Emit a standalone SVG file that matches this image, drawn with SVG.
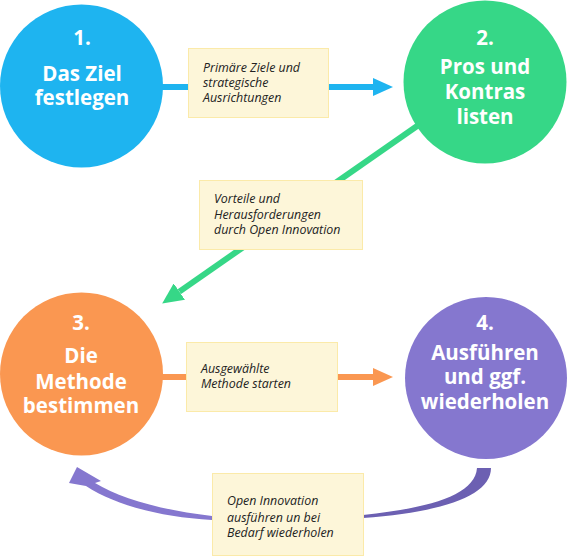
<svg xmlns="http://www.w3.org/2000/svg" width="567" height="556" viewBox="0 0 567 556">
<style>
.ct{font-family:"Open Sans","Noto Sans",sans-serif;font-weight:700;font-size:20.5px;fill:#fff;text-anchor:middle}
.bx{fill:#fdf6d9;stroke:#fbeaa9;stroke-width:1}
.lt{font-family:"Open Sans","Noto Sans",sans-serif;font-style:italic;font-size:12.4px;fill:#222}
</style>
<defs>
<marker id="ab" markerUnits="userSpaceOnUse" markerWidth="20" markerHeight="18" refX="0" refY="9" orient="auto"><path d="M0,0 L20,9 L0,18 Z" fill="#1eb4f0"/></marker>
<marker id="ag" markerUnits="userSpaceOnUse" markerWidth="21" markerHeight="20" refX="0" refY="10" orient="auto"><path d="M0,0 L21,10 L0,20 Z" fill="#36d787"/></marker>
<marker id="ao" markerUnits="userSpaceOnUse" markerWidth="20" markerHeight="18" refX="0" refY="9" orient="auto"><path d="M0,0 L20,9 L0,18 Z" fill="#fa9751"/></marker>
</defs>
<g id="connectors">
<line x1="150" y1="87" x2="373" y2="87" stroke="#1eb4f0" stroke-width="6" marker-end="url(#ab)"/>
<line x1="420" y1="124" x2="179.4" y2="291.6" stroke="#36d787" stroke-width="6" marker-end="url(#ag)"/>
<line x1="150" y1="377" x2="373" y2="377" stroke="#fa9751" stroke-width="6" marker-end="url(#ao)"/>
<path d="M477,468 L491,468 C491,495 445,512 363,518 L290,519 L290,516 L363,515 C430,508 475,495 477,468 Z" fill="#6c60b2"/>
<path d="M290,519 L212,520 C160,517 115,505 86,486 L69,483 L77,467 L101,481 L95,483 C120,498 160,510 212,516 L290,516 Z" fill="#8577cf"/>
</g>
<g id="n1"><circle cx="81.5" cy="86" r="81.5" fill="#1eb4f0"/>
<text class="ct" x="82" y="45">1.</text><text class="ct" x="82" y="81">Das Ziel</text><text class="ct" x="82" y="105">festlegen</text></g>
<g id="n2"><circle cx="485" cy="82" r="81.5" fill="#36d787"/>
<text class="ct" x="485" y="45">2.</text><text class="ct" x="485" y="74">Pros und</text><text class="ct" x="485" y="99">Kontras</text><text class="ct" x="485" y="124">listen</text></g>
<g id="n3"><circle cx="81.5" cy="374" r="81.5" fill="#fa9751"/>
<text class="ct" x="81" y="330">3.</text><text class="ct" x="81" y="363">Die</text><text class="ct" x="81" y="389">Methode</text><text class="ct" x="81" y="413">bestimmen</text></g>
<g id="n4"><circle cx="486" cy="378" r="81" fill="#8577cf"/>
<text class="ct" x="485" y="330">4.</text><text class="ct" x="485" y="360">Ausführen</text><text class="ct" x="485" y="384">und ggf.</text><text class="ct" x="485" y="409">wiederholen</text></g>
<g id="l1"><rect class="bx" x="188.5" y="48.5" width="140" height="69"/>
<text class="lt" x="203" y="72">Primäre Ziele und</text><text class="lt" x="203" y="87">strategische</text><text class="lt" x="203" y="102">Ausrichtungen</text></g>
<g id="l2"><rect class="bx" x="199.5" y="180.5" width="163" height="69"/>
<text class="lt" x="214" y="203">Vorteile und</text><text class="lt" x="214" y="219">Herausforderungen</text><text class="lt" x="214" y="234">durch Open Innovation</text></g>
<g id="l3"><rect class="bx" x="186.5" y="342.5" width="151" height="69"/>
<text class="lt" x="201" y="373">Ausgewählte</text><text class="lt" x="201" y="388">Methode starten</text></g>
<g id="l4"><rect class="bx" x="212.5" y="473.5" width="151" height="82"/>
<text class="lt" x="227" y="505">Open Innovation</text><text class="lt" x="227" y="522">ausführen un bei</text><text class="lt" x="227" y="537">Bedarf wiederholen</text></g>
</svg>
